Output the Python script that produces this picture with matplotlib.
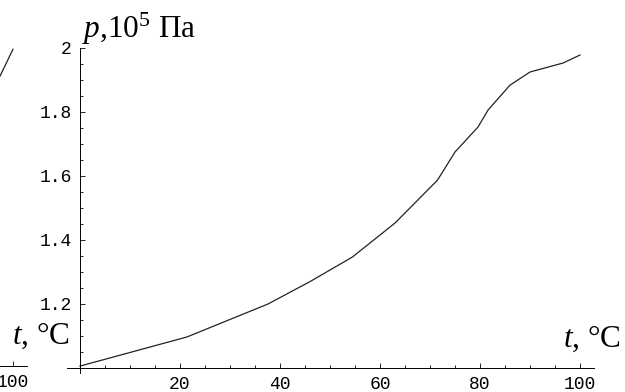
import matplotlib
matplotlib.use("Agg")
import matplotlib.pyplot as plt
from matplotlib.ticker import FixedLocator

# ---- data ----
t_vals = [0, 21.4, 37.6, 46.0, 54.5, 63.0, 71.5, 75.0, 79.6, 81.6, 86.0, 90.0, 96.6, 100.0]
p_vals = [1.006, 1.097, 1.200, 1.270, 1.347, 1.453, 1.587, 1.675, 1.753, 1.806, 1.884, 1.925, 1.953, 1.978]

# fragment of the neighbouring chart on the left edge
left_t = [97.4, 100.0]
left_v = [1.906, 1.99]

x_major = [20, 40, 60, 80, 100]
x_major_labels = ["20", "40", "60", "80", "100"]
x_minor = [v for v in range(5, 100, 5) if v % 20 != 0]
y_major = [1.2, 1.4, 1.6, 1.8, 2.0]
y_major_labels = ["1.2", "1.4", "1.6", "1.8", "2"]
y_minor = [round(1.0 + 0.05 * i, 2) for i in range(1, 20) if i % 4 != 0]

plt.rcParams['mathtext.fontset'] = 'custom'
plt.rcParams['mathtext.rm'] = 'Liberation Serif'
plt.rcParams['mathtext.it'] = 'Liberation Serif:italic'

W, H = 625, 392
fig = plt.figure(figsize=(W / 100, H / 100), dpi=100)

XL = (-2.6, 102.8)
YL = (0.984, 2.0)
xs = 5.0    # px per unit
ys = 320.0  # px per unit
wpx = (XL[1] - XL[0]) * xs
hpx = (YL[1] - YL[0]) * ys


def make_axes(zero_x_px, one_y_px):
    left_px = zero_x_px + XL[0] * xs
    top_px = one_y_px - (YL[1] - 1.0) * ys
    bottom_px = top_px + hpx
    ax = fig.add_axes([left_px / W, (H - bottom_px) / H, wpx / W, hpx / H])
    ax.set_xlim(*XL)
    ax.set_ylim(*YL)
    for s in ['top', 'right']:
        ax.spines[s].set_visible(False)
    ax.spines['left'].set_position(('data', 0))
    ax.spines['bottom'].set_position(('data', 1.0))
    for s in ['left', 'bottom']:
        ax.spines[s].set_linewidth(0.7)
        ax.spines[s].set_color('black')
    ax.patch.set_visible(False)
    ax.xaxis.set_major_locator(FixedLocator(x_major))
    ax.set_xticklabels(x_major_labels)
    ax.xaxis.set_minor_locator(FixedLocator(x_minor))
    ax.yaxis.set_major_locator(FixedLocator(y_major))
    ax.set_yticklabels(y_major_labels)
    ax.yaxis.set_minor_locator(FixedLocator(y_minor))
    ax.tick_params(axis='both', which='major', direction='in', length=3.6, width=0.6,
                   labelsize=13, pad=6)
    ax.tick_params(axis='both', which='minor', direction='in', length=2.0, width=0.6)
    for lab in ax.get_xticklabels() + ax.get_yticklabels():
        lab.set_fontfamily('Liberation Mono')
    return ax


# left fragment axes (mostly off-canvas)
ax0 = make_axes(13 - 100 * xs, 366)
ax0.spines['left'].set_visible(False)
ax0.tick_params(axis='y', which='both', left=False, labelleft=False)
ax0.plot(left_t, left_v, color='#222222', lw=0.9)

# main axes
ax = make_axes(80, 368)
ax.plot(t_vals, p_vals, color='#222222', lw=0.9)

lab_font = dict(family='Liberation Serif', size=22.5)
fig.text(82 / W, 1 - 38 / H, r'$p$,10$^5$ Па', ha='left', va='baseline', **lab_font)
fig.text(621 / W, 1 - 347 / H, r'$t$, °C', ha='right', va='baseline', **lab_font)
fig.text(70 / W, 1 - 344 / H, r'$t$, °C', ha='right', va='baseline', **lab_font)

fig.savefig('out.png', dpi=100)
